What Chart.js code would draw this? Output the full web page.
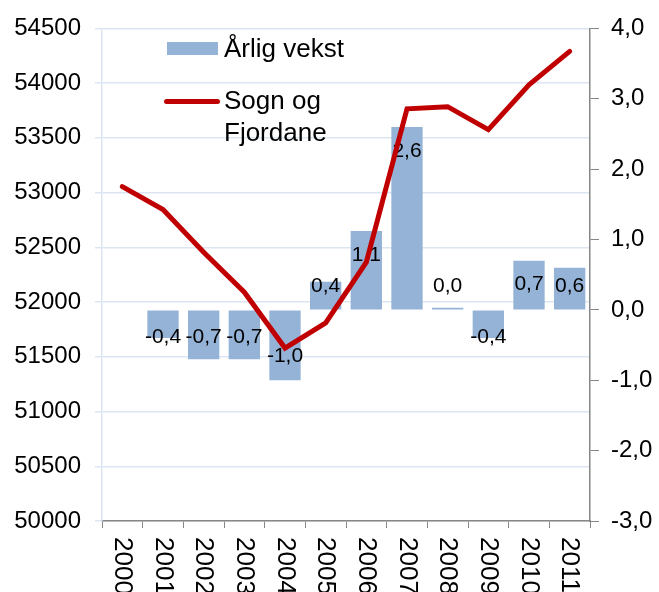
<!DOCTYPE html>
<html>
<head>
<meta charset="utf-8">
<script src="https://cdn.jsdelivr.net/npm/chart.js@4/dist/chart.umd.min.js"></script>
<style>
  html, body { margin: 0; padding: 0; background: #fff; }
  #wrap { position: relative; width: 659px; height: 592px; overflow: hidden; }
  #chart { position: absolute; left: 0; top: 0; }
  .legend { position: absolute; font-family: "Liberation Sans", Arial, sans-serif; font-size: 26px; color: #000; line-height: 32px; }
  .swatch { position: absolute; }
</style>
</head>
<body>
<div id="wrap">
  <canvas id="chart" width="659" height="592"></canvas>
  <div class="swatch" style="left:167px; top:42px; width:51px; height:13px; background:#95b3d7;"></div>
  <div class="legend" style="left:224px; top:32px;">Årlig vekst</div>
  <div class="swatch" style="left:164px; top:99px; width:56px; height:5px; background:#c00000; border-radius:3px;"></div>
  <div class="legend" style="left:224px; top:84px;">Sogn og<br>Fjordane</div>
</div>
<script>
// data
const years = ['2000', '2001', '2002', '2003', '2004', '2005', '2006', '2007', '2008', '2009', '2010', '2011'];
const population = [53055, 52845, 52455, 52090, 51580, 51810, 52365, 53765, 53785, 53575, 53985, 54290];
const growth = [null, -0.4, -0.7, -0.7, -1.0, 0.4, 1.12, 2.6, 0.03, -0.4, 0.7, 0.6];
const growthLabels = ['', '-0,4', '-0,7', '-0,7', '-1,0', '0,4', '1,1', '2,6', '0,0', '-0,4', '0,7', '0,6'];

const FONT = '"Liberation Sans", Arial, sans-serif';

// bar value labels, drawn right after the bars (below the line)
const barLabels = {
    id: 'barLabels',
    afterDatasetDraw(chart, args) {
        if (args.index !== 0) return;
        const ctx = chart.ctx;
        ctx.save();
        ctx.font = '21px ' + FONT;
        ctx.fillStyle = '#000';
        ctx.textAlign = 'center';
        ctx.textBaseline = 'middle';
        args.meta.data.forEach((bar, i) => {
            if (growth[i] === null) return;
            let y;
            if (growth[i] >= 0) {
                y = Math.min(bar.y + 24, bar.base - 23);
            } else {
                y = Math.max(bar.y - 24, bar.base + 27);
            }
            ctx.fillText(growthLabels[i], bar.x, y);
        });
        ctx.restore();
    }
};

// year labels rotated clockwise, reading downward
const yearLabels = {
    id: 'yearLabels',
    afterDraw(chart) {
        const ctx = chart.ctx;
        const xs = chart.scales.x;
        ctx.save();
        ctx.font = '26px ' + FONT;
        ctx.fillStyle = '#000';
        ctx.textAlign = 'left';
        ctx.textBaseline = 'middle';
        years.forEach((yr, i) => {
            ctx.save();
            ctx.translate(xs.getPixelForValue(i), chart.chartArea.bottom + 16);
            ctx.rotate(Math.PI / 2);
            ctx.fillText(yr, 0, 0);
            ctx.restore();
        });
        ctx.restore();
    }
};

const ctx = document.getElementById('chart').getContext('2d');
new Chart(ctx, {
    data: {
        labels: years,
        datasets: [{
            type: 'bar',
            label: 'Årlig vekst',
            data: growth,
            yAxisID: 'y1',
            backgroundColor: '#95b3d7',
            barPercentage: 0.77,
            categoryPercentage: 1,
            order: 2
        }, {
            type: 'line',
            label: 'Sogn og Fjordane',
            data: population,
            yAxisID: 'y',
            borderColor: '#c00000',
            borderWidth: 5,
            pointRadius: 0,
            tension: 0,
            borderCapStyle: 'round',
            borderJoinStyle: 'miter',
            order: 1
        }]
    },
    options: {
        responsive: false,
        animation: false,
        layout: { padding: { top: 25, left: 0, right: 0, bottom: 0 } },
        plugins: {
            legend: { display: false },
            tooltip: { enabled: false }
        },
        scales: {
            x: {
                offset: true,
                grid: {
                    offset: true,
                    drawOnChartArea: false,
                    color: '#868686',
                    tickLength: 7
                },
                border: { color: '#868686', width: 1.5 },
                ticks: { display: false },
                afterFit(scale) { scale.height = 71; }
            },
            y: {
                position: 'left',
                min: 50000,
                max: 54500,
                grid: { color: '#dce6f2', lineWidth: 1.5, tickLength: 7 },
                border: { color: '#dce6f2', width: 1.5 },
                ticks: {
                    stepSize: 500,
                    color: '#000',
                    font: { family: FONT, size: 24 },
                    padding: 14,
                    callback: v => String(v)
                },
                afterFit(scale) { scale.width = 102; }
            },
            y1: {
                position: 'right',
                min: -3,
                max: 4,
                grid: { drawOnChartArea: false, color: '#868686', tickLength: 9 },
                border: { color: '#868686', width: 1.5 },
                ticks: {
                    stepSize: 1,
                    color: '#000',
                    font: { family: FONT, size: 24 },
                    padding: 12,
                    callback: v => v.toFixed(1).replace('.', ',')
                },
                afterFit(scale) { scale.width = 69; }
            }
        }
    },
    plugins: [barLabels, yearLabels]
});
</script>
</body>
</html>
